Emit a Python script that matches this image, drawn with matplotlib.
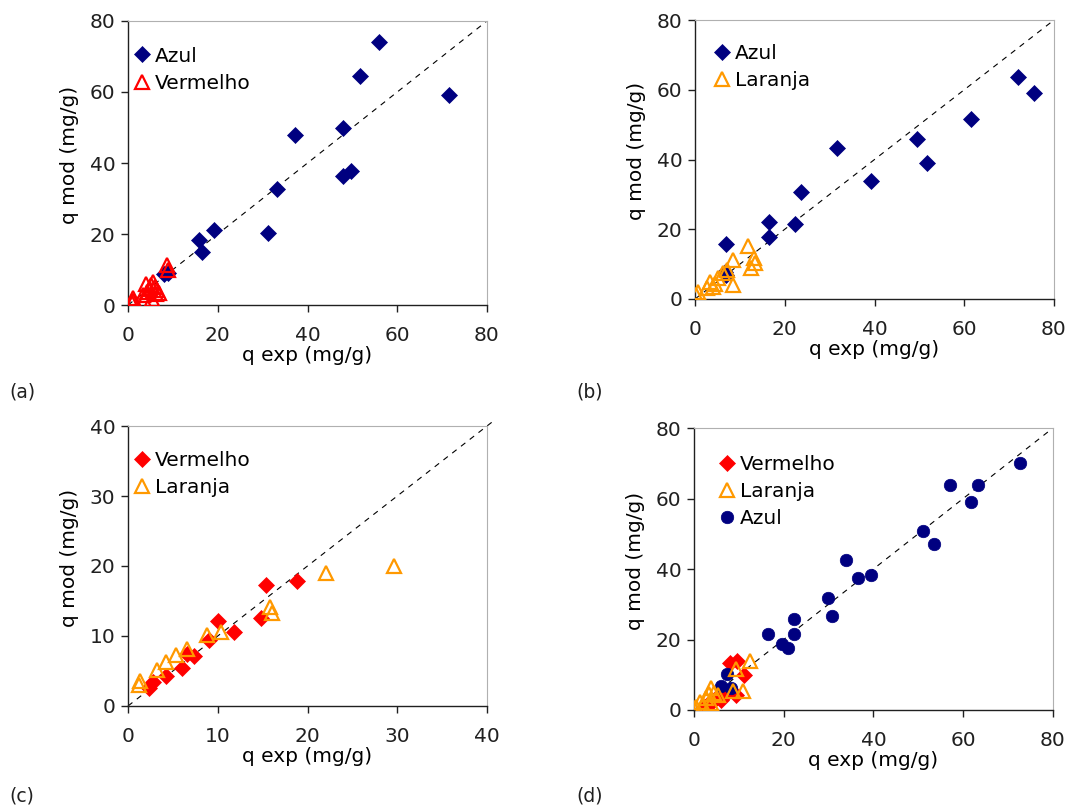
import matplotlib
matplotlib.use("Agg")
import matplotlib.pyplot as plt

plt.rcParams["font.family"] = ["DejaVu Sans"]
plt.rcParams["font.size"] = 14.5

NAVY = "#000080"
RED = "#FF0000"
ORANGE = "#FF9900"

# (a) Azul vs Vermelho
a_azul_x = [56.0, 51.6, 71.5, 37.2, 47.9, 47.9, 49.7, 33.2, 19.1, 15.8, 16.5, 31.2, 8.0, 8.8]
a_azul_y = [74.2, 64.6, 59.1, 48.0, 50.0, 36.3, 37.8, 32.8, 21.2, 18.2, 15.0, 20.2, 8.7, 9.0]
a_verm_x = [0.8, 1.0, 1.2, 3.3, 3.6, 4.0, 4.2, 4.8, 5.1, 5.3, 5.6, 6.0, 6.2, 6.5, 6.8, 8.6, 8.8]
a_verm_y = [0.5, 1.9, 1.0, 2.8, 1.4, 5.8, 3.8, 4.4, 5.6, 1.6, 6.6, 5.2, 3.0, 4.2, 3.5, 11.3, 9.8]

# (b) Azul vs Laranja
b_azul_x = [72.0, 75.6, 61.6, 49.5, 51.6, 39.2, 31.7, 23.7, 22.2, 16.5, 16.5, 6.9, 6.8, 6.6]
b_azul_y = [63.8, 59.2, 51.5, 45.8, 39.1, 33.8, 43.2, 30.7, 21.6, 22.1, 17.8, 15.9, 6.9, 7.6]
b_lar_x = [11.7, 13.2, 13.4, 12.5, 8.5, 8.4, 7.1, 6.3, 5.2, 3.3, 4.1, 2.7, 0.7, 0.2, 4.5]
b_lar_y = [15.2, 11.7, 10.4, 8.8, 11.2, 4.0, 8.3, 7.4, 5.9, 5.0, 3.5, 3.1, 2.1, 1.1, 4.3]

# (c) Vermelho vs Laranja
c_verm_x = [15.4, 18.8, 10.0, 14.8, 11.8, 9.0, 7.4, 6.6, 6.0, 4.2, 2.8, 2.3]
c_verm_y = [17.3, 17.8, 12.2, 12.6, 10.5, 9.4, 7.2, 7.4, 5.4, 4.3, 3.4, 2.5]
c_lar_x = [29.6, 22.1, 15.8, 16.0, 10.4, 8.8, 6.6, 5.4, 4.2, 3.2, 1.3, 1.2]
c_lar_y = [20.0, 19.0, 14.2, 13.3, 10.5, 10.2, 8.2, 7.3, 6.3, 5.1, 3.5, 3.0]

# (d) Vermelho, Laranja and Azul
d_verm_x = [2.0, 3.0, 4.0, 5.0, 6.0, 6.8, 7.5, 8.0, 9.4, 9.5, 11.1]
d_verm_y = [0.6, 1.4, 2.4, 3.3, 2.9, 4.3, 5.0, 13.2, 4.2, 13.9, 9.8]
d_lar_x = [12.5, 9.3, 10.9, 8.6, 3.8, 3.3, 4.5, 2.6, 1.4, 0.5, 2.1, 5.3, 3.9, 0.1]
d_lar_y = [14.0, 11.6, 5.4, 5.5, 6.2, 4.6, 4.8, 3.3, 2.3, 0.9, 1.4, 4.3, 2.1, 0.5]
d_azul_x = [72.6, 63.4, 57.0, 61.8, 51.1, 53.4, 33.9, 36.6, 39.4, 29.8, 30.7, 22.2, 22.2,
            16.5, 19.6, 21.0, 7.3, 6.1, 8.2]
d_azul_y = [70.1, 63.9, 63.9, 58.9, 50.7, 47.1, 42.5, 37.5, 38.4, 31.8, 26.7, 25.8, 21.6,
            21.6, 18.6, 17.5, 10.1, 6.8, 6.3]

fig = plt.figure(figsize=(10.67, 8.07), dpi=100)

axes_rects = {
    "a": [0.1200, 0.6220, 0.3364, 0.3520],
    "b": [0.6514, 0.6295, 0.3364, 0.3457],
    "c": [0.1200, 0.1252, 0.3364, 0.3469],
    "d": [0.6504, 0.1202, 0.3364, 0.3494],
}


def style_axes(ax, lim, step):
    ax.set_xlim(0, lim)
    ax.set_ylim(0, lim)
    ax.set_xticks(range(0, lim + 1, step))
    ax.set_yticks(range(0, lim + 1, step))
    for side in ("top", "right"):
        ax.spines[side].set_color("#b0b0b0")
        ax.spines[side].set_linewidth(0.8)
    for side in ("left", "bottom"):
        ax.spines[side].set_color("#202020")
        ax.spines[side].set_linewidth(1.0)
    ax.tick_params(direction="out", length=5, width=1.0, top=False, right=False,
                   labelsize=14.5, colors="#202020")
    ax.tick_params(axis="x", pad=10)
    ax.tick_params(axis="y", pad=4)
    ax.set_xlabel("q exp (mg/g)", fontsize=14.5, labelpad=1)
    ax.set_ylabel("q mod (mg/g)", fontsize=14.5)
    ax.yaxis.set_label_coords(-0.136, 0.53)


def diag(ax, end, clip=True):
    ax.plot([0, end], [0, end], color="black", lw=0.8, ls=(0, (5, 5)),
            zorder=1, clip_on=clip)


def diamonds(ax, x, y, color, label):
    ax.plot(x, y, ls="none", marker="D", ms=8.3, mfc=color, mec=color,
            mew=0.5, label=label, zorder=3)


def triangles(ax, x, y, color, label):
    ax.plot(x, y, ls="none", marker="^", ms=9.5, mfc="none", mec=color,
            mew=1.6, label=label, zorder=4)


def circles(ax, x, y, color, label):
    ax.plot(x, y, ls="none", marker="o", ms=9, mfc=color, mec=color,
            mew=0.5, label=label, zorder=3)


def legend(ax, anchor):
    ax.legend(loc="upper left", bbox_to_anchor=anchor, frameon=False,
              numpoints=1, handlelength=0.75, handletextpad=0.3,
              borderpad=0, borderaxespad=0, labelspacing=0.4, fontsize=14.5)


# (a)
ax = fig.add_axes(axes_rects["a"])
diag(ax, 80)
diamonds(ax, a_azul_x, a_azul_y, NAVY, "Azul")
triangles(ax, a_verm_x, a_verm_y, RED, "Vermelho")
style_axes(ax, 80, 20)
legend(ax, (0.017, 0.91))

# (b)
ax = fig.add_axes(axes_rects["b"])
diag(ax, 80)
diamonds(ax, b_azul_x, b_azul_y, NAVY, "Azul")
triangles(ax, b_lar_x, b_lar_y, ORANGE, "Laranja")
style_axes(ax, 80, 20)
legend(ax, (0.053, 0.915))

# (c)
ax = fig.add_axes(axes_rects["c"])
diag(ax, 40.9, clip=False)
diamonds(ax, c_verm_x, c_verm_y, RED, "Vermelho")
triangles(ax, c_lar_x, c_lar_y, ORANGE, "Laranja")
style_axes(ax, 40, 10)
legend(ax, (0.017, 0.91))

# (d)
ax = fig.add_axes(axes_rects["d"])
diag(ax, 80)
diamonds(ax, d_verm_x, d_verm_y, RED, "Vermelho")
triangles(ax, d_lar_x, d_lar_y, ORANGE, "Laranja")
circles(ax, d_azul_x, d_azul_y, NAVY, "Azul")
style_axes(ax, 80, 20)
legend(ax, (0.07, 0.905))

# panel tags
for tag, (px, py) in {"(a)": (9, 392), "(b)": (576, 392),
                      "(c)": (9, 796), "(d)": (576, 796)}.items():
    fig.text(px / 1067, 1 - py / 807, tag, fontsize=13.5, va="center", ha="left",
             color="#202020")

fig.savefig("out.png", dpi=100)
